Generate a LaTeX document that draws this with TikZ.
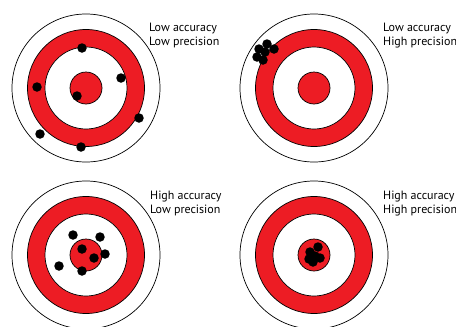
\documentclass[tikz,border=0pt]{standalone}
\usepackage{fontspec}
\setmainfont{PT Sans}
\usepackage{tikz}
\usetikzlibrary{positioning}

\definecolor{targetred}{RGB}{237,28,36}

\tikzset{
    ring/.style={draw=black, line width=0.7pt},
    shot/.style={draw=none, circle, fill=black, minimum size=9.5pt, inner sep=0pt},
    caption/.style={anchor=base west, inner sep=0pt, align=left,
                    font=\fontsize{12}{14}\selectfont}
}

\begin{document}
\begin{tikzpicture}[x=1pt, y=-1pt]
    \useasboundingbox (0,0) rectangle (456,327);

    % the four targets
    \foreach \cx/\cy in {86/88, 314/88, 86/255, 314/255} {
        \filldraw[ring, fill=white]     (\cx,\cy) circle (74pt);
        \filldraw[ring, fill=targetred] (\cx,\cy) circle (58.5pt);
        \filldraw[ring, fill=white]     (\cx,\cy) circle (41pt);
        \filldraw[ring, fill=targetred] (\cx,\cy) circle (16pt);
    }

    % low accuracy, low precision
    \node[shot] (a1) at (82,48)   {};
    \node[shot] (a2) at (121,78)  {};
    \node[shot] (a3) at (37,87)   {};
    \node[shot] (a4) at (77,96)   {};
    \node[shot] (a5) at (139,118) {};
    \node[shot] (a6) at (40,134)  {};
    \node[shot] (a7) at (81,147)  {};

    % low accuracy, high precision
    \node[shot] (b1) at (259,49) {};
    \node[shot] (b2) at (267,44) {};
    \node[shot] (b3) at (274,49) {};
    \node[shot] (b4) at (265,52) {};
    \node[shot] (b5) at (257,57) {};
    \node[shot] (b6) at (263,60) {};

    % high accuracy, low precision
    \node[shot] (c1) at (73,235)  {};
    \node[shot] (c2) at (100,237) {};
    \node[shot] (c3) at (82,249)  {};
    \node[shot] (c4) at (94,258)  {};
    \node[shot] (c5) at (105,254) {};
    \node[shot] (c6) at (59,266)  {};
    \node[shot] (c7) at (82,271)  {};

    % high accuracy, high precision
    \node[shot] (d1) at (318,247) {};
    \node[shot] (d2) at (310,252) {};
    \node[shot] (d3) at (315,256) {};
    \node[shot] (d4) at (309,259) {};
    \node[shot] (d5) at (320,258) {};
    \node[shot] (d6) at (313,262) {};

    % captions (base = last line)
    \node[caption] (lbl1) at (149,45)  {Low accuracy\\Low precision};
    \node[caption] (lbl2) at (383,45)  {Low accuracy\\High precision};
    \node[caption] (lbl3) at (150,213) {High accuracy\\Low precision};
    \node[caption] (lbl4) at (383,213) {High accuracy\\High precision};
\end{tikzpicture}
\end{document}
